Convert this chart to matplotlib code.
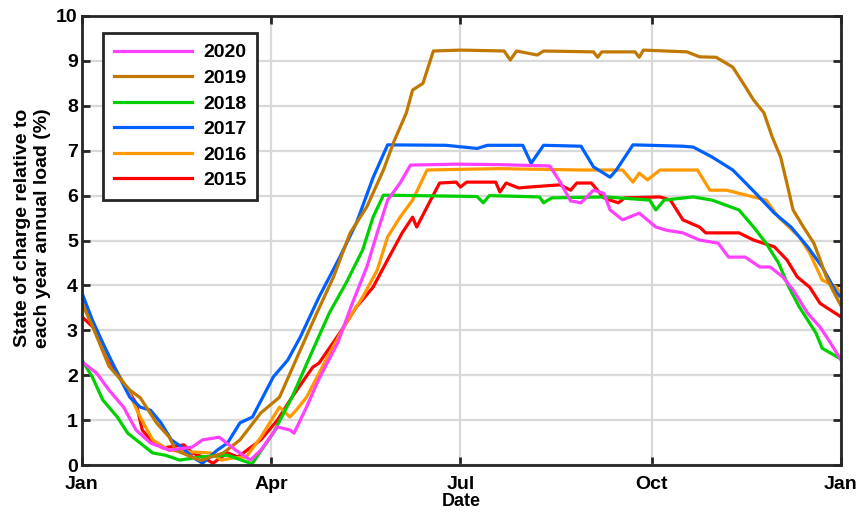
import numpy as np
import matplotlib.pyplot as plt

plt.rcParams['font.family'] = ['Liberation Sans', 'DejaVu Sans']
plt.rcParams['font.weight'] = 'bold'

# --------------------------
# Data (day of year, state of charge %)
# --------------------------
d2020 = [0, 7, 13, 20, 26, 33, 42, 53, 58, 66, 74, 81, 86, 94, 100, 102, 108, 114, 123, 130, 137, 142, 147, 153, 158,
         180, 200, 225, 230, 235, 240, 246, 251, 254, 260, 268, 276, 281, 289, 297, 306, 311, 319, 326, 331, 337, 342,
         349, 355, 360, 365]
v2020 = [2.3, 2.05, 1.67, 1.29, 0.78, 0.49, 0.33, 0.4, 0.56, 0.62, 0.33, 0.11, 0.33, 0.85, 0.78, 0.71, 1.29, 1.92,
         2.72, 3.6, 4.41, 5.17, 5.9, 6.28, 6.68, 6.7, 6.69, 6.66, 6.3, 5.88, 5.84, 6.12, 6.05, 5.68, 5.46, 5.61, 5.3,
         5.23, 5.17, 5.01, 4.94, 4.63, 4.63, 4.41, 4.41, 4.19, 3.9, 3.38, 3.07, 2.72, 2.34]

d2019 = [0, 5, 13, 23, 28, 36, 42, 45, 57, 68, 76, 86, 95, 105, 113, 121, 129, 137, 145, 150, 156, 159, 164, 169,
         182, 203, 206, 209, 219, 222, 246, 248, 250, 266, 268, 270, 291, 297, 305, 313, 318, 323, 328, 332, 336, 339,
         342, 347, 352, 355, 358, 361, 365]
v2019 = [3.6, 3.1, 2.2, 1.67, 1.5, 0.93, 0.62, 0.33, 0.1, 0.27, 0.56, 1.16, 1.51, 2.56, 3.39, 4.19, 5.17, 5.75, 6.57,
         7.2, 7.84, 8.35, 8.5, 9.22, 9.24, 9.22, 9.02, 9.22, 9.13, 9.22, 9.2, 9.08, 9.2, 9.2, 9.08, 9.24, 9.2, 9.09,
         9.08, 8.86, 8.5, 8.13, 7.84, 7.3, 6.86, 6.28, 5.68, 5.3, 4.94, 4.57, 4.19, 3.9, 3.55]

d2018 = [0, 5, 10, 17, 22, 28, 34, 40, 47, 57, 70, 81, 82, 92, 101, 111, 119, 127, 135, 140, 145, 190, 193, 196,
         220, 222, 226, 252, 273, 276, 280, 294, 303, 316, 323, 329, 335, 340, 345, 353, 356, 365]
v2018 = [2.34, 1.96, 1.45, 1.07, 0.71, 0.49, 0.27, 0.22, 0.11, 0.18, 0.22, 0.04, 0.04, 0.71, 1.51, 2.56, 3.39, 4.05,
         4.79, 5.52, 6.01, 5.98, 5.84, 6.0, 5.97, 5.84, 5.95, 5.97, 5.9, 5.68, 5.9, 5.97, 5.9, 5.68, 5.3, 4.94, 4.5,
         3.96, 3.52, 2.94, 2.6, 2.36]

d2017 = [0, 5, 10, 17, 23, 28, 33, 38, 43, 48, 53, 58, 65, 70, 76, 82, 92, 99, 105, 114, 124, 132, 140, 147, 175, 190,
         195, 212, 216, 222, 240, 246, 254, 257, 265, 289, 294, 303, 313, 323, 333, 341, 349, 356, 363, 365]
v2017 = [3.83, 3.23, 2.72, 2.05, 1.51, 1.29, 1.22, 0.94, 0.56, 0.4, 0.18, 0.04, 0.33, 0.49, 0.94, 1.07, 1.96, 2.34,
         2.85, 3.74, 4.63, 5.39, 6.4, 7.13, 7.12, 7.05, 7.12, 7.12, 6.72, 7.12, 7.1, 6.64, 6.41, 6.57, 7.13, 7.1, 7.08,
         6.86, 6.57, 6.1, 5.61, 5.3, 4.86, 4.41, 3.83, 3.74]

d2016 = [0, 5, 13, 22, 28, 34, 42, 53, 62, 67, 73, 79, 86, 95, 100, 103, 108, 118, 127, 135, 142, 147, 153, 159, 166,
         200, 240, 260, 265, 268, 272, 278, 296, 302, 310, 323, 329, 335, 345, 350, 356, 363, 365]
v2016 = [3.67, 3.16, 2.4, 1.67, 1.07, 0.56, 0.33, 0.29, 0.27, 0.11, 0.16, 0.18, 0.62, 1.29, 1.07, 1.22, 1.51, 2.4,
         3.16, 3.74, 4.34, 5.08, 5.52, 5.9, 6.57, 6.6, 6.57, 6.57, 6.3, 6.5, 6.35, 6.57, 6.57, 6.12, 6.12, 5.97, 5.9,
         5.52, 5.08, 4.72, 4.12, 3.96, 3.74]

d2015 = [0, 7, 13, 22, 26, 29, 33, 39, 49, 53, 58, 63, 70, 75, 86, 94, 101, 111, 114, 124, 132, 140, 147, 154, 159,
         161, 166, 172, 180, 182, 185, 199, 201, 204, 210, 215, 230, 235, 238, 240, 245, 251, 254, 258, 261, 278, 283,
         289, 297, 300, 316, 323, 333, 339, 344, 350, 355, 360, 365]
v2015 = [3.3, 3.0, 2.34, 1.67, 1.38, 0.78, 0.56, 0.38, 0.45, 0.27, 0.18, 0.04, 0.27, 0.18, 0.56, 1.0, 1.51, 2.18,
         2.27, 2.94, 3.52, 3.96, 4.57, 5.17, 5.52, 5.3, 5.75, 6.28, 6.3, 6.19, 6.3, 6.3, 6.08, 6.28, 6.17, 6.19, 6.24,
         6.12, 6.28, 6.28, 6.28, 5.95, 5.9, 5.84, 5.95, 5.97, 5.9, 5.46, 5.3, 5.17, 5.17, 5.01, 4.86, 4.57, 4.19, 3.96,
         3.6, 3.45, 3.3]

years = ['2020', '2019', '2018', '2017', '2016', '2015']
days = [d2020, d2019, d2018, d2017, d2016, d2015]
values = [v2020, v2019, v2018, v2017, v2016, v2015]
colors = ['#ff40ff', '#c07800', '#00d000', '#0060ff', '#ff9900', '#ff0000']

tick_days = [0, 91, 182, 274, 365]
tick_labels = ['Jan', 'Apr', 'Jul', 'Oct', 'Jan']

# --------------------------
# Plot
# --------------------------
fig = plt.figure(figsize=(8.6, 5.15), dpi=100)
ax = fig.add_axes([0.0953, 0.097, 0.8825, 0.872])

# draw oldest first so 2020 ends up on top
for yr, d, v, c in reversed(list(zip(years, days, values, colors))):
    ax.plot(d, v, color=c, linewidth=2.3, label=yr)

ax.set_xlim(0, 365)
ax.set_ylim(0, 10)
ax.set_xticks(tick_days)
ax.set_xticklabels(tick_labels)
ax.set_yticks(range(0, 11))
ax.grid(True, color='#d9d9d9', linewidth=1.6)
ax.set_axisbelow(True)

for s in ax.spines.values():
    s.set_linewidth(2.0)
    s.set_color('#262626')
ax.tick_params(direction='in', length=6, width=2, color='#262626',
               top=True, right=True, labelsize=14)
ax.tick_params(axis='x', pad=8)
ax.tick_params(axis='y', pad=3)
for lbl in ax.get_xticklabels() + ax.get_yticklabels():
    lbl.set_fontweight('bold')

ax.set_xlabel('Date', fontsize=13, fontweight='bold', labelpad=0)
ax.set_ylabel('State of charge relative to\neach year annual load (%)', fontsize=14, fontweight='bold')
ax.yaxis.set_label_coords(-0.041, 0.528)

handles, labels = ax.get_legend_handles_labels()
leg = ax.legend(handles[::-1], labels[::-1], loc='upper left', bbox_to_anchor=(0.028, 0.962),
                borderaxespad=0, fontsize=14, handlelength=4.0, fancybox=False, framealpha=1,
                edgecolor='#262626', borderpad=0.55, labelspacing=0.41, handletextpad=0.6)
leg.get_frame().set_linewidth(2.0)
for t in leg.get_texts():
    t.set_fontweight('bold')

plt.savefig('out.png', dpi=100)
